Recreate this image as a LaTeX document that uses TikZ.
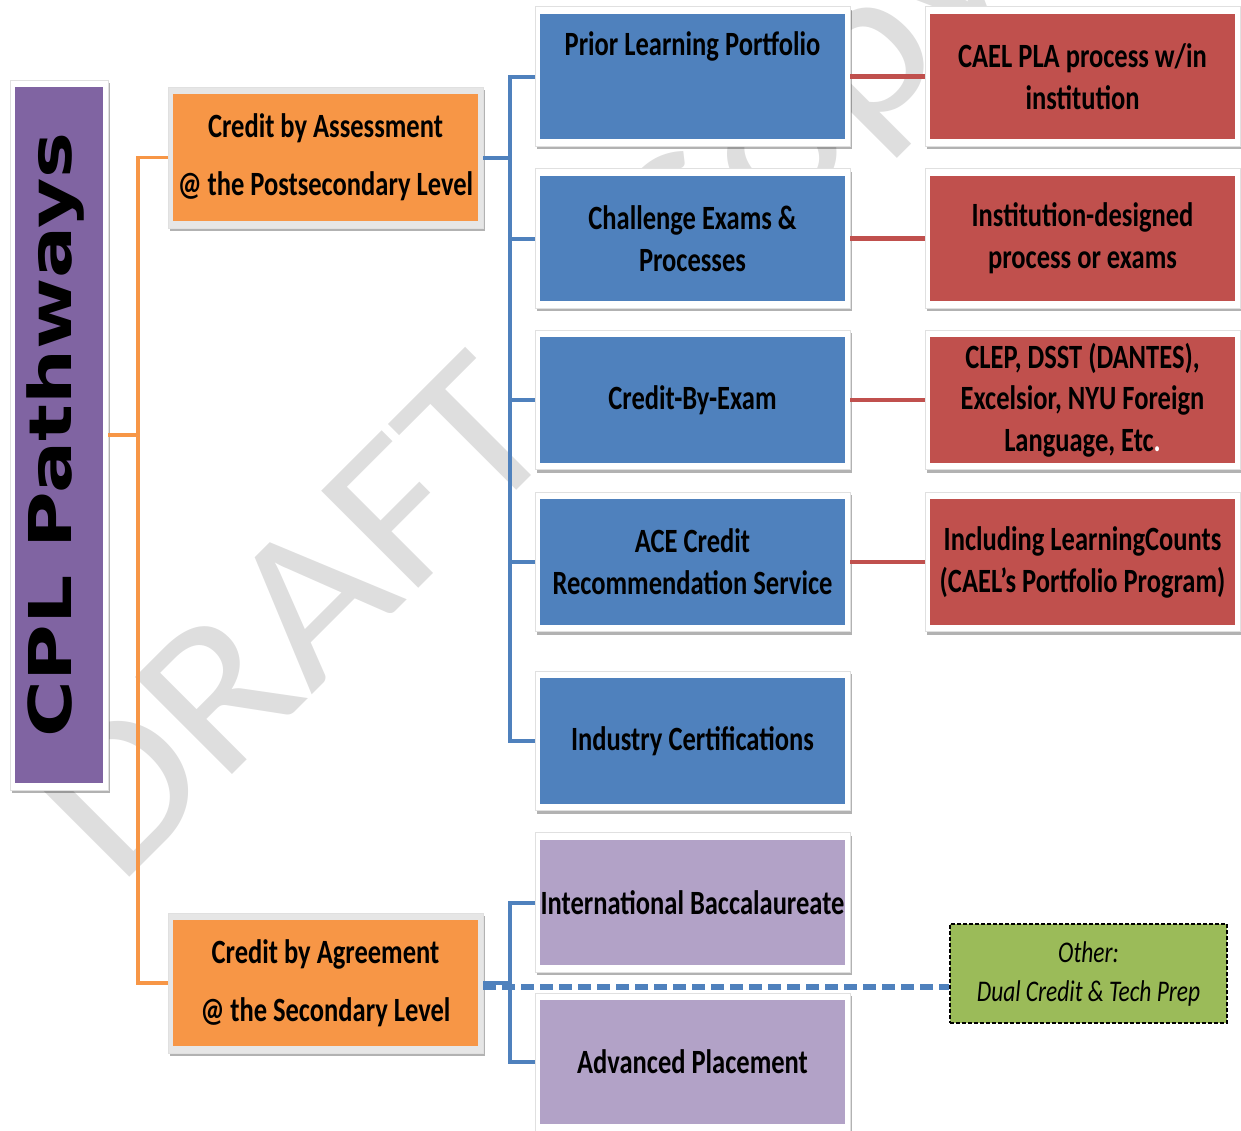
\documentclass[tikz,border=0pt]{standalone}
\usepackage{fontspec}
\setmainfont{Carlito}
\newfontfamily\boxfont{Carlito}[FakeStretch=0.78]
\newfontfamily\titlefont{DejaVu Sans}[FakeStretch=1.31]
\newfontfamily\markfont{Carlito}[FakeStretch=1.1]
\usetikzlibrary{shadows}

\definecolor{cplpurple}{HTML}{8064A2}
\definecolor{assorange}{HTML}{F79646}
\definecolor{cplblue}{HTML}{4F81BD}
\definecolor{cplred}{HTML}{C0504D}
\definecolor{lilac}{HTML}{B2A2C7}
\definecolor{otgreen}{HTML}{9BBB59}
\definecolor{orgframe}{HTML}{E6E6E6}

\tikzset{
  tile/.style={rectangle, inner sep=0pt, minimum width=157.5pt, minimum height=69.75pt,
    fill=white, draw=black!12, line width=0.4pt,
    drop shadow={shadow xshift=0.8pt, shadow yshift=-1.6pt, opacity=0.3, fill=black},
    path picture={\fill[#1] ([shift={(2.5pt,-3.5pt)}]path picture bounding box.north west)
      rectangle ([shift={(-2.5pt,3.5pt)}]path picture bounding box.south east);},
    font=\boxfont\bfseries\fontsize{17pt}{21pt}\selectfont, align=center},
  wmark/.style={font=\markfont\fontsize{107pt}{107pt}\selectfont, text=black!13,
    rotate=45, inner sep=0pt, anchor=base west},
  oline/.style={draw=assorange, line width=1.6pt},
  bline/.style={draw=cplblue, line width=2pt},
  rline/.style={draw=cplred, line width=2.2pt},
  dline/.style={draw=cplblue, line width=2.6pt, dash pattern=on 6.5pt off 3pt},
  otherbox/.style={rectangle, fill=otgreen, draw=black, line width=0.9pt,
    dash pattern=on 2pt off 1pt, minimum width=138.5pt, minimum height=49.5pt,
    font=\boxfont\itshape\fontsize{15pt}{19.5pt}\selectfont, align=center}
}

\begin{document}
\begin{tikzpicture}[x=0.5pt,y=-0.5pt]
\useasboundingbox (0,0) rectangle (1241,1130);

\node[wmark] (wmdraft) at (118,889) {DRAFT};
\node[wmark] (wmcopy) at (685,322) {Copy};

\node[tile=cplpurple, minimum width=49pt, minimum height=355pt] (cpl) at (59,435) {};
\node[font=\titlefont\bfseries\fontsize{29.5pt}{30pt}\selectfont, rotate=90, inner sep=0pt]
  (cpltext) at ([xshift=-2pt]cpl.center) {CPL Pathways};

\node[tile=assorange, fill=orgframe, minimum height=70.5pt,
  font=\boxfont\bfseries\fontsize{17pt}{29pt}\selectfont]
  (cba) at (325.5,157.5) {Credit by Assessment\\@ the Postsecondary Level};
\node[tile=assorange, fill=orgframe, minimum height=70pt,
  font=\boxfont\bfseries\fontsize{17pt}{29pt}\selectfont]
  (cbag) at (325.5,983) {Credit by Agreement\\@ the Secondary Level};

\node[tile=cplblue] (plp) at (692.5,76.5) {};
\node[font=\boxfont\bfseries\fontsize{17pt}{21pt}\selectfont, inner sep=0pt]
  (plplabel) at ([yshift=-20pt]plp.north) {Prior Learning Portfolio};
\node[tile=cplblue] (cee) at (692.5,238.5) {Challenge Exams \&\\Processes};
\node[tile=cplblue] (cbe) at (692.5,400) {Credit-By-Exam};
\node[tile=cplblue] (ace) at (692.5,562) {ACE Credit\\Recommendation Service};
\node[tile=cplblue] (ind) at (692.5,741) {Industry Certifications};
\node[tile=lilac] (ib) at (692.5,902.5) {International Baccalaureate};
\node[tile=lilac, minimum height=69pt] (ap) at (692.5,1062) {Advanced Placement};

\node[tile=cplred] (cael) at (1082.5,76.5) {CAEL PLA process w/in\\institution};
\node[tile=cplred] (inst) at (1082.5,238.5) {Institution-designed\\process or exams};
\node[tile=cplred, font=\boxfont\bfseries\fontsize{17pt}{20.75pt}\selectfont]
  (clep) at (1082.5,400) {CLEP, DSST (DANTES),\\Excelsior, NYU Foreign\\Language, Etc\textcolor{white}{.}};
\node[tile=cplred] (incl) at (1082.5,562) {Including LearningCounts\\(CAEL’s Portfolio Program)};

\node[otherbox] (other) at (1088.5,973.5) {Other:\\Dual Credit \& Tech Prep};

\coordinate (obus) at (138,435);
\draw[oline] (cpl.east) -- (obus);
\draw[oline] (cba.west) -| (obus) |- (cbag.west);

\coordinate (bbus) at (510,157.5);
\draw[bline] (cba.east) -- (bbus);
\foreach \n in {plp,cee,cbe,ace,ind}
  \draw[bline] (bbus) |- (\n.west);

\coordinate (sbus) at (510,983);
\draw[bline] (cbag.east) -- (sbus);
\foreach \n in {ib,ap}
  \draw[bline] (sbus) |- (\n.west);
\draw[dline] ([yshift=-2pt]cbag.east) -- ([yshift=-2pt]cbag.east -| other.west);

\foreach \a/\b in {plp/cael,cee/inst,cbe/clep,ace/incl}
  \draw[rline] (\a.east) -- (\b.west);
\end{tikzpicture}
\end{document}
